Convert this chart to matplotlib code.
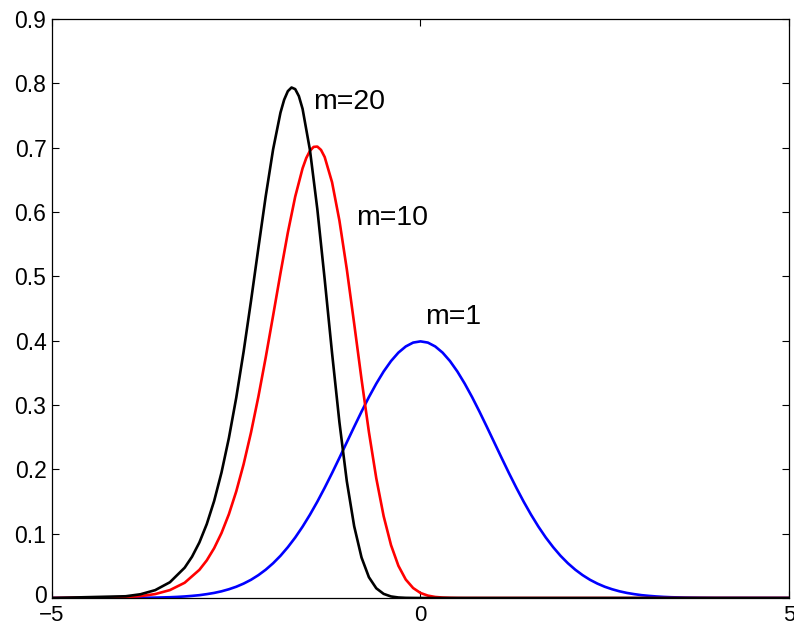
import matplotlib
matplotlib.use("Agg")
import matplotlib.pyplot as plt
import matplotlib.transforms as mtransforms

plt.rcParams['font.family'] = ['Liberation Sans', 'DejaVu Sans']

# m=1 curve
x1 = [-5.0, -4.0, -3.8, -3.6, -3.5, -3.4, -3.3, -3.2, -3.1, -3.0, -2.9, -2.8, -2.7, -2.6, -2.5,
      -2.4, -2.3, -2.2, -2.1, -2.0, -1.9, -1.8, -1.7, -1.6, -1.5, -1.4, -1.3, -1.2, -1.1, -1.0,
      -0.9, -0.8, -0.7, -0.6, -0.5, -0.4, -0.3, -0.2, -0.1, 0.0,
      0.1, 0.2, 0.3, 0.4, 0.5, 0.6, 0.7, 0.8, 0.9, 1.0, 1.1, 1.2, 1.3, 1.4, 1.5, 1.6, 1.7,
      1.8, 1.9, 2.0, 2.1, 2.2, 2.3, 2.4, 2.5, 2.6, 2.7, 2.8, 2.9, 3.0, 3.1, 3.2, 3.3, 3.4,
      3.5, 3.6, 3.8, 4.0, 5.0]
y1 = [0.0, 0.0001, 0.0003, 0.0006, 0.0009, 0.0012, 0.0017, 0.0024, 0.0033, 0.0044, 0.0060,
      0.0079, 0.0104, 0.0136, 0.0175, 0.0224, 0.0283, 0.0355, 0.0440, 0.0540, 0.0656, 0.0790,
      0.0940, 0.1109, 0.1295, 0.1497, 0.1714, 0.1942, 0.2179, 0.2420, 0.2661, 0.2897, 0.3123,
      0.3332, 0.3521, 0.3683, 0.3814, 0.3910, 0.3970, 0.3989,
      0.3970, 0.3910, 0.3814, 0.3683, 0.3521, 0.3332, 0.3123, 0.2897, 0.2661, 0.2420, 0.2179,
      0.1942, 0.1714, 0.1497, 0.1295, 0.1109, 0.0940, 0.0790, 0.0656, 0.0540, 0.0440, 0.0355,
      0.0283, 0.0224, 0.0175, 0.0136, 0.0104, 0.0079, 0.0060, 0.0044, 0.0033, 0.0024, 0.0017,
      0.0012, 0.0009, 0.0006, 0.0003, 0.0001, 0.0]

# m=10 curve
x10 = [-5.0, -4.0, -3.8, -3.6, -3.4, -3.2, -3.0, -2.9, -2.8, -2.7, -2.6, -2.5, -2.4, -2.3,
       -2.2, -2.1, -2.0, -1.9, -1.8, -1.7, -1.6, -1.55, -1.5, -1.45, -1.4, -1.35, -1.3, -1.2,
       -1.1, -1.0, -0.9, -0.8, -0.7, -0.6, -0.5, -0.4, -0.3, -0.2, -0.1, 0.0, 0.1, 0.2, 0.3,
       0.4, 0.5, 0.6, 1.0, 5.0]
y10 = [0.0, 0.0013, 0.0029, 0.0061, 0.0123, 0.0237, 0.0438, 0.0585, 0.0774, 0.1010, 0.1302,
       0.1657, 0.2080, 0.2571, 0.3128, 0.3740, 0.4389, 0.5048, 0.5680, 0.6239, 0.6679, 0.6839,
       0.6951, 0.7012, 0.7017, 0.6965, 0.6854, 0.6462, 0.5866, 0.5111, 0.4265, 0.3399, 0.2580,
       0.1861, 0.1272, 0.0822, 0.0501, 0.0287, 0.0155, 0.0078, 0.0037, 0.0016, 0.0007, 0.0003,
       0.0001, 0.00003, 0.0, 0.0]

# m=20 curve
x20 = [-5.0, -4.0, -3.8, -3.6, -3.4, -3.2, -3.1, -3.0, -2.9, -2.8, -2.7, -2.6, -2.5, -2.4,
       -2.3, -2.2, -2.1, -2.0, -1.9, -1.85, -1.8, -1.75, -1.7, -1.65, -1.6, -1.5, -1.4, -1.3,
       -1.2, -1.1, -1.0, -0.9, -0.8, -0.7, -0.6, -0.5, -0.4, -0.3, -0.2, -0.1, 0.0, 5.0]
y20 = [0.0, 0.0027, 0.0058, 0.0122, 0.0245, 0.0471, 0.0642, 0.0864, 0.1149, 0.1508, 0.1951,
       0.2486, 0.3114, 0.3830, 0.4616, 0.5438, 0.6246, 0.6973, 0.7544, 0.7745, 0.7878, 0.7935,
       0.7910, 0.7800, 0.7603, 0.6963, 0.6046, 0.4952, 0.3807, 0.2730, 0.1816, 0.1116, 0.0629,
       0.0323, 0.0151, 0.0064, 0.0024, 0.0008, 0.00025, 0.0001, 0.0, 0.0]

fig = plt.figure(figsize=(7.94, 6.28), dpi=100)
ax = fig.add_axes([52 / 794, 30 / 628, 737 / 794, 579 / 628])

ax.plot(x1, y1, color='#0000ff', lw=1.9, solid_joinstyle='round')
ax.plot(x10, y10, color='#ff0000', lw=1.9, solid_joinstyle='round')
ax.plot(x20, y20, color='black', lw=1.9, solid_joinstyle='round')

ax.text(-1.46, 0.771, 'm=20', fontsize=20.5, va='center', ha='left')
ax.text(-0.875, 0.591, 'm=10', fontsize=20.5, va='center', ha='left')
ax.text(0.06, 0.437, 'm=1', fontsize=20.5, va='center', ha='left')

ax.set_xlim(-5, 5)
ax.set_ylim(0, 0.9)
ax.set_xticks([-5, 0, 5])
ax.set_xticklabels(['\u22125', '0', '5'])
ax.set_yticks([0, 0.1, 0.2, 0.3, 0.4, 0.5, 0.6, 0.7, 0.8, 0.9])
ax.set_yticklabels(['0', '0.1', '0.2', '0.3', '0.4', '0.5', '0.6', '0.7', '0.8', '0.9'])
ax.tick_params(direction='in', length=5, width=0.8, labelsize=16.5,
               top=True, right=True)
ax.tick_params(axis='x', pad=5, labelsize=16)
ax.tick_params(axis='y', pad=4)
for s in ax.spines.values():
    s.set_linewidth(0.9)

# nudge the y "0" label up a little so it clears the x "-5" label
lab0 = ax.get_yticklabels()[0]
lab0.set_transform(lab0.get_transform() +
                   mtransforms.ScaledTranslation(0, 4 / 100, fig.dpi_scale_trans))

fig.savefig('out.png', dpi=100)
